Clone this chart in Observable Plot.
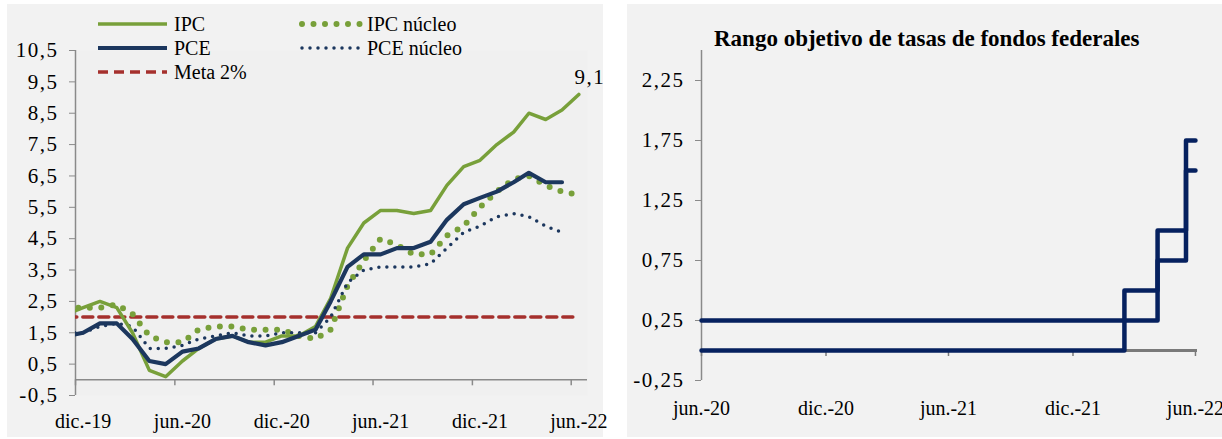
<!DOCTYPE html>
<html>
<head>
<meta charset="utf-8">
<script src="https://cdn.jsdelivr.net/npm/d3@7"></script>
<script src="https://cdn.jsdelivr.net/npm/@observablehq/plot@0.6"></script>
<style>
  html, body { margin: 0; padding: 0; background: #ffffff; }
  body { width: 1222px; height: 439px; overflow: hidden; position: relative; font-family: "Liberation Serif", "Times New Roman", Tinos, "DejaVu Serif", serif; }
  .panel { position: absolute; background: #f2f2f2; }
  #pl { left: 7px; top: 4px; width: 596px; height: 433px; }
  #pr { left: 627px; top: 4px; width: 595px; height: 433px; }
  #c1 { position: absolute; left: 0; top: 0; }
  #c2 { position: absolute; left: 610px; top: 0; }
  #legend { position: absolute; left: 0; top: 0; }
  #title { position: absolute; left: 714px; top: 26px; font-size: 23px; font-weight: bold; color: #000; white-space: nowrap; }
  svg text { font-family: "Liberation Serif", "Times New Roman", Tinos, "DejaVu Serif", serif; }
  g[aria-label="y-axis tick label"] text, g.num text { letter-spacing: 1.5px; }
</style>
</head>
<body>
<div class="panel" id="pl"></div>
<div class="panel" id="pr"></div>
<div id="c1"></div>
<div id="c2"></div>
<svg id="legend" width="610" height="90"></svg>
<div id="title">Rango objetivo de tasas de fondos federales</div>
<script>
// ---------- Left panel data (YoY %, monthly) ----------
const months = ["2019-11","2019-12","2020-01","2020-02","2020-03","2020-04","2020-05","2020-06","2020-07","2020-08","2020-09","2020-10","2020-11","2020-12","2021-01","2021-02","2021-03","2021-04","2021-05","2021-06","2021-07","2021-08","2021-09","2021-10","2021-11","2021-12","2022-01","2022-02","2022-03","2022-04","2022-05","2022-06"];
const ipc       = [2.1,2.3,2.5,2.3,1.5,0.3,0.1,0.6,1.0,1.3,1.4,1.2,1.2,1.4,1.4,1.7,2.6,4.2,5.0,5.4,5.4,5.3,5.4,6.2,6.8,7.0,7.5,7.9,8.5,8.3,8.6,9.1];
const ipcNucleo = [2.3,2.3,2.3,2.4,2.1,1.4,1.2,1.2,1.6,1.7,1.7,1.6,1.6,1.6,1.4,1.3,1.6,3.0,3.8,4.5,4.3,4.0,4.0,4.6,4.9,5.5,6.0,6.4,6.5,6.2,6.0,5.9];
const pce       = [1.4,1.5,1.8,1.8,1.3,0.6,0.5,0.9,1.0,1.3,1.4,1.2,1.1,1.2,1.4,1.6,2.5,3.6,4.0,4.0,4.2,4.2,4.4,5.1,5.6,5.8,6.0,6.3,6.6,6.3,6.3,null];
const pceNucleo = [1.5,1.5,1.7,1.8,1.7,1.0,1.0,1.1,1.3,1.4,1.5,1.4,1.4,1.5,1.5,1.5,2.0,3.1,3.5,3.6,3.6,3.6,3.7,4.2,4.7,4.9,5.2,5.3,5.2,4.9,4.7,null];
const meta      = [2,2,2,2,2,2,2,2,2,2,2,2,2,2,2,2,2,2,2,2,2,2,2,2,2,2,2,2,2,2,2,2];
const leftYTicks = [-0.5,0.5,1.5,2.5,3.5,4.5,5.5,6.5,7.5,8.5,9.5,10.5];
const leftXTickMonths = ["2019-12","2020-06","2020-12","2021-06","2021-12","2022-06"];
const leftXLabels = ["dic.-19","jun.-20","dic.-20","jun.-21","dic.-21","jun.-22"];

// ---------- Right panel data (Fed funds target range) ----------
const fedDates = ["2020-06-30","2022-03-17","2022-05-05","2022-06-16","2022-06-30"];
const fedUpper = [0.25,0.5,1.0,1.75,1.75];
const fedLower = [0,0.25,0.75,1.5,1.5];
const rightYTicks = [-0.25,0.25,0.75,1.25,1.75,2.25];
const rightXTickDates = ["2020-06-30","2020-12-31","2021-06-30","2021-12-31","2022-06-30"];
const rightXLabels = ["jun.-20","dic.-20","jun.-21","dic.-21","jun.-22"];

// ---------- Colours ----------
const GREEN = "#78a03a", NAVY = "#1c375e", RED = "#a5302d", FEDBLUE = "#06215f", AXIS = "#8a8a8a";
const FONT = "'Liberation Serif', 'Times New Roman', Tinos, 'DejaVu Serif', serif";

const pm = d3.utcParse("%Y-%m");
const pd = d3.utcParse("%Y-%m-%d");
const mid = m => d3.utcDay.offset(pm(m), 14);
const fmt1 = v => v.toFixed(1).replace(".", ",");
const fmt2 = v => v.toFixed(2).replace(".", ",");

const rows = months.map((m, i) => ({date: mid(m), ipc: ipc[i], ipcN: ipcNucleo[i], pce: pce[i], pceN: pceNucleo[i], meta: meta[i]}));
const xStart = pm("2019-12"), xEnd = pm("2022-07");
const leftTickDates = leftXTickMonths.map(pm);
const leftLabelDates = leftXTickMonths.map(mid);
const lastIpc = rows[rows.length - 1];

const font = {fontFamily: FONT, fontSize: "20px", background: "transparent", color: "#000"};

const left = Plot.plot({
  width: 610, height: 439,
  marginLeft: 75, marginRight: 23, marginTop: 50, marginBottom: 44,
  style: font,
  x: {type: "utc", domain: [xStart, xEnd]},
  y: {domain: [-0.5, 10.5]},
  marks: [
    Plot.frame({fill: "#f0f0f0", stroke: null}),
    Plot.ruleY([0], {stroke: AXIS, strokeWidth: 1.5}),
    Plot.ruleX([xStart], {y1: -0.5, y2: 10.5, stroke: AXIS, strokeWidth: 1.5}),
    Plot.axisY({ticks: leftYTicks, tickFormat: fmt1, tickSize: 6, tickPadding: 11, fontSize: 21, stroke: AXIS, fill: "#000"}),
    Plot.ruleX(leftTickDates, {y1: 0, y2: 0, insetBottom: -6, stroke: AXIS, strokeWidth: 1.5}),
    Plot.axisX({ticks: leftLabelDates, tickFormat: (d, i) => leftXLabels[i], tickSize: 0, tickPadding: 18, fill: "#000"}),
    Plot.line(rows, {x: "date", y: "meta", stroke: RED, strokeWidth: 3.5, strokeDasharray: "10,6", clip: true}),
    Plot.line(rows, {x: "date", y: "ipcN", stroke: GREEN, strokeWidth: 6, strokeDasharray: "0,11.5", strokeLinecap: "round", clip: true}),
    Plot.line(rows, {x: "date", y: "pceN", stroke: NAVY, strokeWidth: 3.5, strokeDasharray: "0,8", strokeLinecap: "round", clip: true}),
    Plot.line(rows, {x: "date", y: "ipc", stroke: GREEN, strokeWidth: 3.5, clip: true}),
    Plot.line(rows, {x: "date", y: "pce", stroke: NAVY, strokeWidth: 4.2, clip: true}),
    Plot.text([lastIpc], {x: "date", y: "ipc", text: d => fmt1(d.ipc), dx: 11, dy: -17, fontSize: 21, className: "num", fill: "#000"})
  ]
});
document.getElementById("c1").append(left);

// Right panel
const fedRows = fedDates.map((d, i) => ({date: pd(d), upper: fedUpper[i], lower: fedLower[i]}));
const rStart = pd("2020-06-30"), rEnd = pd("2022-07-03");
const right = Plot.plot({
  width: 612, height: 439,
  marginLeft: 91, marginRight: 25, marginTop: 50, marginBottom: 59,
  style: font,
  x: {type: "utc", domain: [rStart, rEnd]},
  y: {domain: [-0.25, 2.5]},
  marks: [
    Plot.ruleY([0], {stroke: "#7a7a7a", strokeWidth: 3}),
    Plot.ruleX([rStart], {y1: -0.25, y2: 2.5, stroke: AXIS, strokeWidth: 1.5}),
    Plot.axisY({ticks: rightYTicks, tickFormat: fmt2, tickSize: 6, tickPadding: 11, fontSize: 21, stroke: AXIS, fill: "#000"}),
    Plot.ruleX(rightXTickDates.map(pd), {y1: 0, y2: 0, insetBottom: -6, stroke: "#7a7a7a", strokeWidth: 1.5}),
    Plot.axisX({ticks: rightXTickDates.map(pd), tickFormat: (d, i) => rightXLabels[i], tickSize: 0, tickPadding: 20, fill: "#000"}),
    Plot.line(fedRows, {x: "date", y: "lower", curve: "step-after", stroke: FEDBLUE, strokeWidth: 4.5, strokeLinecap: "round", strokeLinejoin: "round"}),
    Plot.line(fedRows, {x: "date", y: "upper", curve: "step-after", stroke: FEDBLUE, strokeWidth: 4.5, strokeLinecap: "round", strokeLinejoin: "round"})
  ]
});
document.getElementById("c2").append(right);

// Legend
const legendItems = [
  {label: "IPC", x: 98, y: 24, stroke: GREEN, width: 3.5, dash: null},
  {label: "PCE", x: 98, y: 48, stroke: NAVY, width: 4.2, dash: null},
  {label: "Meta 2%", x: 98, y: 72, stroke: RED, width: 3.5, dash: "10,6"},
  {label: "IPC núcleo", x: 302, y: 24, stroke: GREEN, width: 6, dash: "0,11.5", cap: "round"},
  {label: "PCE núcleo", x: 302, y: 48, stroke: NAVY, width: 3.5, dash: "0,8", cap: "round"}
];
const lg = d3.select("#legend");
legendItems.forEach(it => {
  const len = it.x < 200 ? 69 : 58;
  const line = lg.append("line").attr("x1", it.x).attr("x2", it.x + len).attr("y1", it.y).attr("y2", it.y)
    .attr("stroke", it.stroke).attr("stroke-width", it.width).attr("stroke-linecap", it.cap || "butt");
  if (it.dash) line.attr("stroke-dasharray", it.dash);
  lg.append("text").attr("x", it.x < 200 ? 174 : 367).attr("y", it.y).attr("dy", "0.33em")
    .attr("font-size", 20).attr("fill", "#000").text(it.label);
});
</script>
</body>
</html>
